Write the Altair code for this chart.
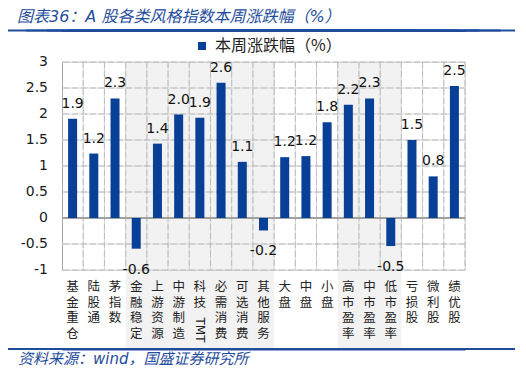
import altair as alt
import pandas as pd

categories = ["基金重仓", "陆股通", "茅指数", "金融稳定", "上游资源", "中游制造", "科技TMT",
              "必需消费", "可选消费", "其他服务", "大盘", "中盘", "小盘", "高市盈率",
              "中市盈率", "低市盈率", "亏损股", "微利股", "绩优股"]
values = [1.91, 1.24, 2.30, -0.59, 1.43, 1.99, 1.93, 2.60, 1.08, -0.24,
          1.17, 1.19, 1.84, 2.18, 2.30, -0.54, 1.50, 0.80, 2.54]
shaded = ["金融稳定", "上游资源", "中游制造", "科技TMT", "必需消费", "可选消费", "其他服务",
          "高市盈率", "中市盈率", "低市盈率"]
series_name = "本周涨跌幅（%）"
y_ticks = [-1, -0.5, 0, 0.5, 1, 1.5, 2, 2.5, 3]
y_tick_labels = ["-1", "-0.5", "0", "0.5", "1", "1.5", "2", "2.5", "3"]
title_text = "图表36：A 股各类风格指数本周涨跌幅（%）"
source_text = "资料来源：wind，国盛证券研究所"

BLUE = "#083f97"
LINE_BLUE = "#1f4d9c"
CJK = "Noto Sans CJK SC"
LAT = "DejaVu Sans, Noto Sans CJK SC"
GRID = "#bdbdbd"
GRID_SOLID = "#d6d6d6"

W, H = 403, 208

df = pd.DataFrame({"cat": categories, "val": values, "series": series_name})
df["lbl"] = [f"{v:.1f}" for v in values]
df["zero"] = 0.0
df["lines"] = [["科", "技"] if c == "科技TMT" else list(c) for c in categories]
shade_df = pd.DataFrame({"cat": shaded})
tmt_df = pd.DataFrame({"cat": ["科技TMT"], "t": ["TMT"]})
ydf = pd.DataFrame({"v": y_ticks, "s": y_tick_labels})
hgrid_df = ydf[ydf["v"] != 0]
vgrid_df = pd.DataFrame({"cat": categories[1:]})
vlast_df = pd.DataFrame({"cat": [categories[-1]]})
one = pd.DataFrame({"title": [title_text], "src": [source_text]})

x_axis = alt.Axis(title=None, labels=False, ticks=False, domain=False, grid=False)
top_rule_axis = alt.Axis(
    title=None, orient="top", offset=31.5, labels=False, ticks=False, grid=False,
    domain=True, domainColor=LINE_BLUE, domainWidth=2,
)
bot_rule_axis = alt.Axis(
    title=None, orient="bottom", offset=79, labels=False, ticks=False, grid=False,
    domain=True, domainColor=LINE_BLUE, domainWidth=2,
)
y_axis = alt.Axis(
    title=None, values=y_ticks, labels=False, grid=False,
    ticks=False, domainColor="#a6a6a6",
)
x_scale = alt.Scale(paddingInner=0, paddingOuter=0)
y_scale = alt.Scale(domain=[-1, 3], nice=False, zero=False)


def X(band_pos=None, axis=x_axis):
    if band_pos is None:
        return alt.X("cat:N", sort=categories, scale=x_scale, axis=axis)
    return alt.X("cat:N", sort=categories, scale=x_scale, axis=axis,
                 bandPosition=band_pos)


def Y(field="val"):
    return alt.Y(f"{field}:Q", scale=y_scale, axis=y_axis)


shade = alt.Chart(shade_df).mark_rect(color="black", opacity=0.05).encode(
    x=X(), y=alt.value(0), y2=alt.value(286)
)
hgrid_s = alt.Chart(hgrid_df).mark_rule(color=GRID_SOLID, strokeWidth=1).encode(y=Y("v"))
vgrid_s = alt.Chart(vgrid_df).mark_rule(color=GRID_SOLID, strokeWidth=1).encode(x=X(0))
vlast_s = alt.Chart(vlast_df).mark_rule(color=GRID_SOLID, strokeWidth=1).encode(x=X(1))
hgrid = alt.Chart(hgrid_df).mark_rule(
    color=GRID, strokeWidth=1, strokeDash=[6, 3]
).encode(y=Y("v"))
vgrid = alt.Chart(vgrid_df).mark_rule(
    color=GRID, strokeWidth=1, strokeDash=[6, 3]
).encode(x=X(0))
vlast = alt.Chart(vlast_df).mark_rule(
    color=GRID, strokeWidth=1, strokeDash=[6, 3]
).encode(x=X(1))
zero = alt.Chart(df).mark_rule(color="#a0a0a0", strokeWidth=1).encode(y=Y("zero"))

# header / footer rules (axis domains placed above and below the plot)
top_rule = alt.Chart(df).mark_point(opacity=0, size=1).encode(
    x=X(axis=top_rule_axis), y=Y()
)
bot_rule = alt.Chart(df).mark_point(opacity=0, size=1).encode(
    x=X(axis=bot_rule_axis), y=Y()
)
top_band = alt.Chart(df).mark_rect(color=LINE_BLUE, width=135).encode(
    x=X(), y=alt.value(-32.5), y2=alt.value(-30.5)
)
bot_band = alt.Chart(df).mark_rect(color=LINE_BLUE, width=135).encode(
    x=X(), y=alt.value(286), y2=alt.value(288)
)

bars = alt.Chart(df).mark_bar(width=9).encode(
    x=X(), y=Y(),
    color=alt.Color(
        "series:N", scale=alt.Scale(range=[BLUE]),
        legend=alt.Legend(
            title=None, orient="none", legendX=132, legendY=-24,
            symbolType="square", symbolSize=64,
            labelFont=CJK, labelFontSize=16, labelOffset=5,
            labelColor="#222222",
        ),
    ),
)
pos_txt = alt.Chart(df).transform_filter("datum.val >= 0").mark_text(
    font=LAT, fontSize=14, dy=-11, baseline="alphabetic", color="#111111"
).encode(x=X(), y=Y(), text="lbl:N")
neg_txt = alt.Chart(df).transform_filter("datum.val < 0").mark_text(
    font=LAT, fontSize=14, dy=25, baseline="alphabetic", color="#111111"
).encode(x=X(), y=Y(), text="lbl:N")
cat_lbl = alt.Chart(df).mark_text(
    font=CJK, fontSize=12.5, lineHeight=15.7, baseline="top", align="center",
    color="#222222",
).encode(x=X(), y=alt.value(H + 11), text="lines")
tmt = alt.Chart(tmt_df).mark_text(
    font="DejaVu Sans", fontSize=12, angle=90, align="center", baseline="middle",
    color="#222222",
).encode(x=X(), y=alt.value(268), text="t:N")
y_lbl = alt.Chart(ydf).mark_text(
    font=LAT, fontSize=14, align="right", baseline="middle", color="#1a1a1a",
).encode(x=alt.value(-14), y=Y("v"), text="s:N")

title = alt.Chart(one).mark_text(
    font=LAT, fontSize=16, fontStyle="italic", color=LINE_BLUE,
    align="left", baseline="alphabetic",
).encode(x=alt.value(-45), y=alt.value(-40.5), text="title:N")
source = alt.Chart(one).mark_text(
    font=LAT, fontSize=15, fontStyle="italic", color=LINE_BLUE,
    align="left", baseline="alphabetic",
).encode(x=alt.value(-44), y=alt.value(301.5), text="src:N")

chart = alt.layer(
    shade, hgrid_s, vgrid_s, vlast_s, hgrid, vgrid, vlast, zero,
    top_rule, bot_rule, top_band, bot_band,
    bars, pos_txt, neg_txt, cat_lbl, tmt, y_lbl, title, source
).resolve_axis(
    x="independent"
).properties(
    width=W, height=H,
    autosize=alt.AutoSizeParams(type="none"),
    padding={"left": 54, "top": 54, "right": 50, "bottom": 95},
)

chart.save("out.html", embed_options={"renderer": "svg", "actions": False})
